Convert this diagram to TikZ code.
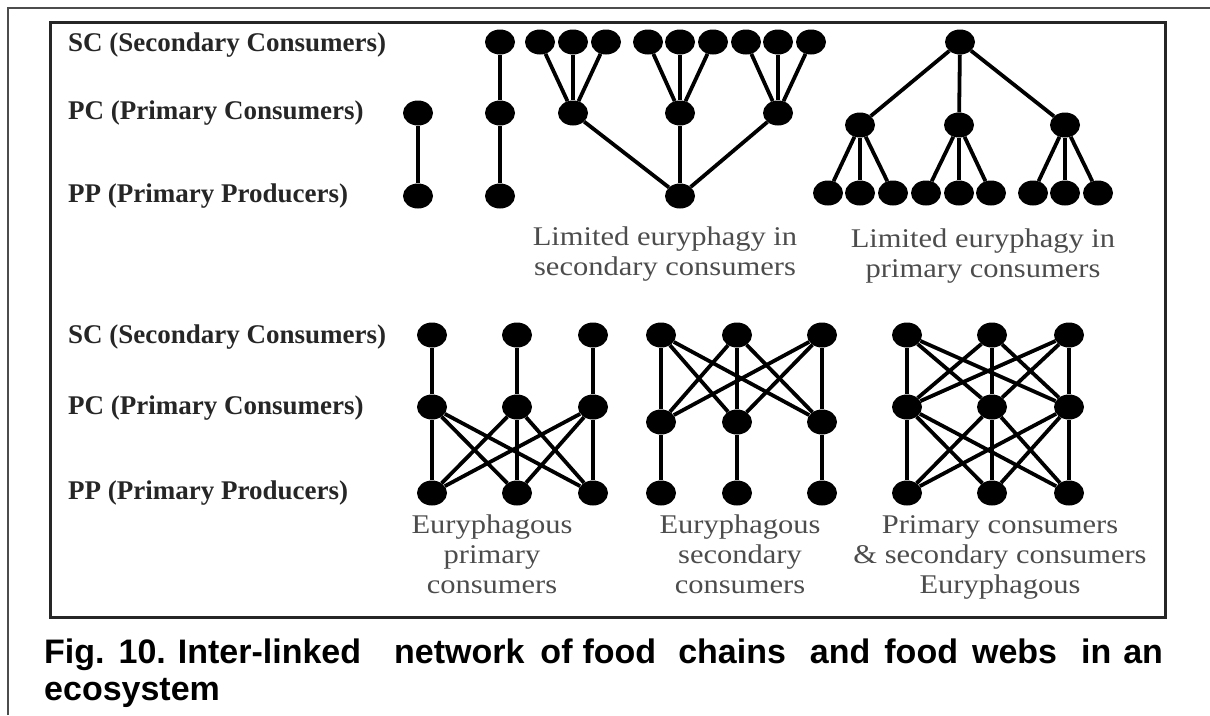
\documentclass[tikz,border=0pt]{standalone}
\usepackage{fontspec}
\setmainfont{Liberation Serif}
\newfontfamily\capfont{Liberation Sans}
\usetikzlibrary{shapes.geometric}
% centred multi-line text, stretched a little sideways
\newcommand{\widetext}[1]{\scalebox{1.13}[1]{\begin{tabular}{@{}c@{}}#1\end{tabular}}}
% caption word gap
\newcommand{\gap}[1]{\hspace*{#1pt}}

\begin{document}
\begin{tikzpicture}[x=1pt,y=-1pt,
  dot/.style={ellipse, fill=black, minimum width=30pt, minimum height=25pt, inner sep=0pt},
  link/.style={line width=3.8pt},
  level/.style={anchor=west, font=\fontsize{27}{30}\selectfont\bfseries, text=black!85, inner sep=0pt},
  note/.style={inner sep=0pt, font=\fontsize{27}{30}\selectfont, text=black!70},
  capline/.style={anchor=base west, inner sep=0pt, font=\capfont\bfseries\fontsize{34}{40}\selectfont},
]
\useasboundingbox (0,0) rectangle (1210,715);

% frames
\draw[line width=2pt, black!70] (8,715) -- (8,8) -- (1210,8);
\draw[line width=3pt, black!85] (50,22) rectangle (1165,617);

% trophic level labels
\node[level] (lsc1) at (68,45)  {SC (Secondary Consumers)};
\node[level] (lpc1) at (68,113) {PC (Primary Consumers)};
\node[level] (lpp1) at (68,196) {PP (Primary Producers)};
\node[level] (lsc2) at (68,337) {SC (Secondary Consumers)};
\node[level] (lpc2) at (68,408) {PC (Primary Consumers)};
\node[level] (lpp2) at (68,493) {PP (Primary Producers)};

% simple chains
\node[dot] (a2) at (418,113) {};
\node[dot] (a3) at (418,196) {};
\draw[link] (a2) -- (a3);
\node[dot] (b1) at (500,42) {};
\node[dot] (b2) at (500,113) {};
\node[dot] (b3) at (500,196) {};
\draw[link] (b1) -- (b2) -- (b3);

% limited euryphagy in secondary consumers
\node[dot] (r) at (680,196) {};
\foreach \x [count=\i] in {573,680,778} {
  \node[dot] (m\i) at (\x,113) {};
  \draw[link] (m\i) -- (r);
}
\foreach \x [count=\i] in {540,573,606,648,680,713,746,778,811} {
  \node[dot] (t\i) at (\x,42) {};
}
\foreach \i/\j in {1/1,2/1,3/1,4/2,5/2,6/2,7/3,8/3,9/3} {
  \draw[link] (t\i) -- (m\j);
}
\node[note] (n1) at (665,254) {\widetext{Limited euryphagy in\\secondary consumers}};

% limited euryphagy in primary consumers
\node[dot] (u) at (960,42) {};
\foreach \x [count=\i] in {860,959,1065} {
  \node[dot] (v\i) at (\x,125) {};
  \draw[link] (u) -- (v\i);
}
\foreach \x [count=\i] in {828,860,893,926,959,991,1033,1065,1098} {
  \node[dot] (w\i) at (\x,193) {};
}
\foreach \i/\j in {1/1,2/1,3/1,4/2,5/2,6/2,7/3,8/3,9/3} {
  \draw[link] (v\j) -- (w\i);
}
\node[note] (n2) at (983,256) {\widetext{Limited euryphagy in\\primary consumers}};

% euryphagous primary consumers
\foreach \x [count=\i] in {432,517,593} {
  \node[dot] (ps\i) at (\x,335) {};
  \node[dot] (pc\i) at (\x,407) {};
  \node[dot] (pp\i) at (\x,493) {};
  \draw[link] (ps\i) -- (pc\i);
}
\foreach \i in {1,2,3} {
  \foreach \j in {1,2,3} {
    \draw[link] (pc\i) -- (pp\j);
  }
}
\node[note] (n3) at (492,557) {\widetext{Euryphagous\\primary\\consumers}};

% euryphagous secondary consumers
\foreach \x [count=\i] in {661,737,822} {
  \node[dot] (ss\i) at (\x,335) {};
  \node[dot] (sc\i) at (\x,422) {};
  \node[dot] (sp\i) at (\x,493) {};
  \draw[link] (sc\i) -- (sp\i);
}
\foreach \i in {1,2,3} {
  \foreach \j in {1,2,3} {
    \draw[link] (ss\i) -- (sc\j);
  }
}
\node[note] (n4) at (740,557) {\widetext{Euryphagous\\secondary\\consumers}};

% both levels euryphagous
\foreach \x [count=\i] in {907,992,1069} {
  \node[dot] (bs\i) at (\x,335) {};
  \node[dot] (bc\i) at (\x,407) {};
  \node[dot] (bp\i) at (\x,493) {};
}
\foreach \i in {1,2,3} {
  \foreach \j in {1,2,3} {
    \draw[link] (bs\i) -- (bc\j);
    \draw[link] (bc\i) -- (bp\j);
  }
}
\node[note] (n5) at (1000,557) {\widetext{Primary consumers\\\& secondary consumers\\Euryphagous}};

% caption
\node[capline] (cap1) at (44,663) {Fig.\gap{14}10.\gap{12}Inter-linked\gap{33}network\gap{16}of\gap{10}food\gap{22}chains\gap{24}and\gap{14}food\gap{14}webs\gap{24}in\gap{12}an};
\node[capline] (cap2) at (44,700) {ecosystem};
\end{tikzpicture}
\end{document}
